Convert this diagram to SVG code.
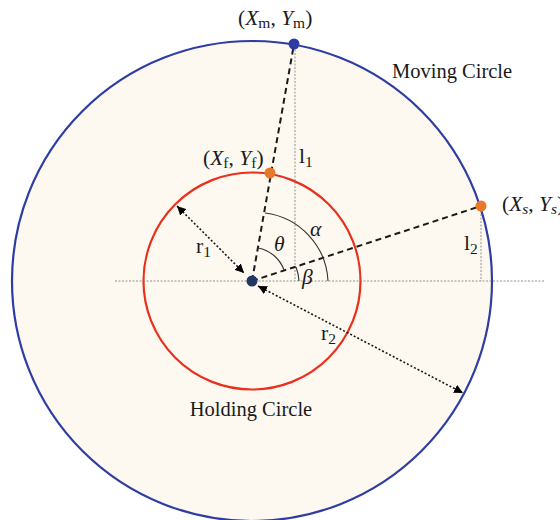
<svg xmlns="http://www.w3.org/2000/svg" width="560" height="520" viewBox="0 0 560 520">
<defs>
<style>
.lbl{font-family:"Liberation Serif","Times New Roman",serif;font-size:20.5px;fill:#1a1a1a}
.math{font-family:"Liberation Serif","Times New Roman",serif;font-size:21.5px;fill:#1a1a1a}
.it{font-style:italic}
.sub{font-size:15.5px}
.thin{stroke:#777;stroke-width:0.8;stroke-dasharray:2 1.5;fill:none}
.dash{stroke:#1a1a1a;stroke-width:2;stroke-dasharray:6 4;fill:none}
.arrow{stroke:#1a1a1a;stroke-width:1.6;stroke-dasharray:2 2;fill:none}
.arc{stroke:#333;stroke-width:1.1;fill:none}
</style>
<marker id="ah" viewBox="0 0 10 10" refX="10" refY="5" markerWidth="9" markerHeight="9" orient="auto-start-reverse" markerUnits="userSpaceOnUse">
<path d="M0,0 L10,5 L0,10 z" fill="#000"/>
</marker>
</defs>
<rect width="560" height="520" fill="#ffffff"/>
<g id="moving-circle">
<circle cx="252" cy="281" r="240" fill="#fdf9f1" stroke="#2e3da3" stroke-width="2.2"/>
<text class="lbl" x="392" y="78">Moving Circle</text>
</g>
<g id="holding-circle">
<circle cx="252" cy="281" r="108.5" fill="none" stroke="#e8301c" stroke-width="2.2"/>
<text class="lbl" x="251" y="416" text-anchor="middle">Holding Circle</text>
</g>
<g id="connectors">
<line class="thin" x1="115" y1="281" x2="545" y2="281"/>
<line class="thin" x1="295" y1="46" x2="295" y2="281"/>
<line class="thin" x1="481" y1="207" x2="481" y2="281"/>
<line class="dash" x1="252" y1="281" x2="294" y2="44"/>
<line class="dash" x1="252" y1="281" x2="481" y2="206"/>
<line class="arrow" x1="177" y1="206" x2="244" y2="273" marker-start="url(#ah)" marker-end="url(#ah)"/>
<line class="arrow" x1="258" y1="286" x2="463" y2="393" marker-start="url(#ah)" marker-end="url(#ah)"/>
<path class="arc" d="M258,248 A34,34 0 0 1 284,270"/>
<path class="arc" d="M265,213 A72,72 0 0 1 328,281"/>
<path class="arc" d="M296,267 A46,46 0 0 1 299,281"/>
</g>
<g id="center">
<circle cx="252" cy="281" r="5.5" fill="#1f3764"/>
</g>
<g id="point-m">
<circle cx="294" cy="44" r="5.5" fill="#2e3da3"/>
<text class="math" x="238" y="25">(<tspan class="it">X</tspan><tspan class="sub" dy="3">m</tspan><tspan dy="-3">, </tspan><tspan class="it">Y</tspan><tspan class="sub" dy="3">m</tspan><tspan dy="-3">)</tspan></text>
</g>
<g id="point-f">
<circle cx="270" cy="173" r="5.5" fill="#e8782a"/>
<text class="math" x="203" y="165">(<tspan class="it">X</tspan><tspan class="sub" dy="3">f</tspan><tspan dy="-3">, </tspan><tspan class="it">Y</tspan><tspan class="sub" dy="3">f</tspan><tspan dy="-3">)</tspan></text>
</g>
<g id="point-s">
<circle cx="481" cy="206" r="5.5" fill="#e8782a"/>
<text class="math" x="502" y="211">(<tspan class="it">X</tspan><tspan class="it sub" dy="3">s</tspan><tspan dy="-3">, </tspan><tspan class="it">Y</tspan><tspan class="it sub" dy="3">s</tspan><tspan dy="-3">)</tspan></text>
</g>
<g id="labels">
<text class="math" x="299" y="163">l<tspan class="sub" dy="4">1</tspan></text>
<text class="math" x="464" y="250">l<tspan class="sub" dy="4">2</tspan></text>
<text class="math" x="196" y="253">r<tspan class="sub" dy="4">1</tspan></text>
<text class="math" x="321" y="340">r<tspan class="sub" dy="4">2</tspan></text>
<text class="math it" x="274" y="251">θ</text>
<text class="math it" x="310" y="236">α</text>
<text class="math it" x="302" y="284">β</text>
</g>
</svg>
